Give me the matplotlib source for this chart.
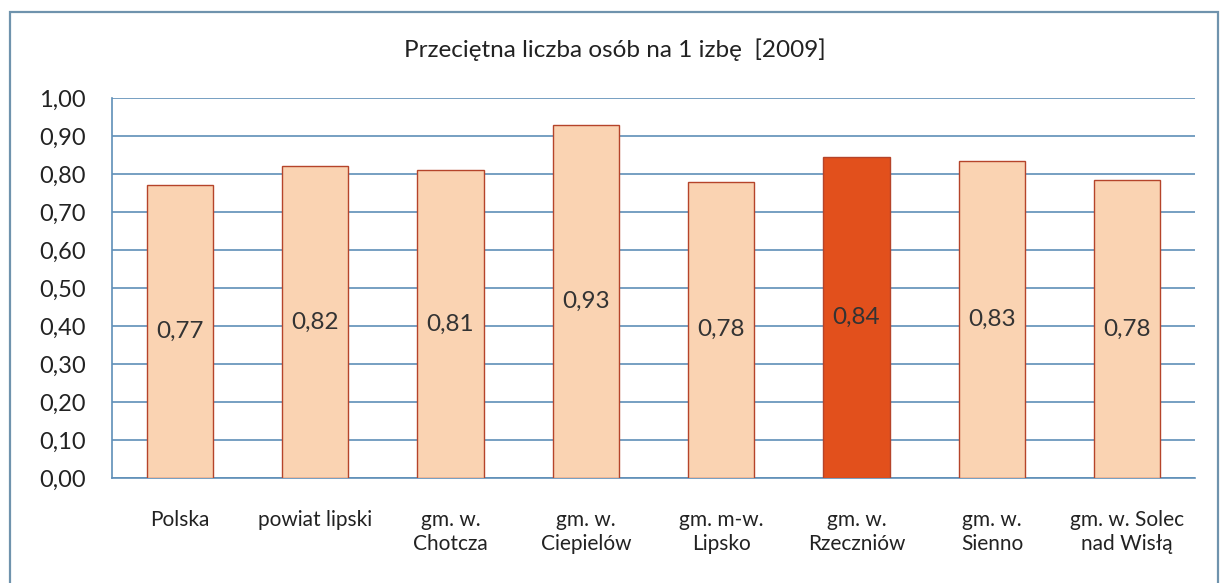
import numpy as np
import matplotlib.pyplot as plt
from matplotlib.patches import Rectangle

categories = ["Polska", "powiat lipski", "gm. w.\nChotcza", "gm. w.\nCiepielów",
              "gm. m-w.\nLipsko", "gm. w.\nRzeczniów", "gm. w.\nSienno",
              "gm. w. Solec\nnad Wisłą"]
values = [0.77, 0.82, 0.81, 0.93, 0.78, 0.845, 0.835, 0.785]
labels = ["0,77", "0,82", "0,81", "0,93", "0,78", "0,84", "0,83", "0,78"]
highlight = "gm. w.\nRzeczniów"

light = "#fad3b2"
dark = "#e2501c"
edge = "#b5442a"
blue = "#5f8fb8"

plt.rcParams['font.family'] = ['Lato', 'DejaVu Sans']

fig = plt.figure(figsize=(12.2, 5.83), dpi=100)
ax = fig.add_axes([0.0918, 0.180, 0.8877, 0.652])

# outer chart frame
fig.patches.append(Rectangle((10 / 1220, -0.01), 1208 / 1220, 1 - 12 / 583 + 0.01,
                             transform=fig.transFigure, fill=False,
                             edgecolor="#6f93ad", linewidth=1.6))

x = np.arange(len(categories))
cols = [dark if c == highlight else light for c in categories]
ax.bar(x, values, width=0.49, color=cols, edgecolor=edge, linewidth=1.0, zorder=3)

for xi, v, lab in zip(x, values, labels):
    ax.text(xi, v / 2, lab, ha="center", va="center", fontsize=17.5, color="#333333", zorder=4)

ax.set_xlim(-0.5, len(categories) - 0.5)
ax.set_ylim(0, 1.0)
ax.set_yticks(np.arange(0, 1.01, 0.1))
ax.set_yticklabels([f"{t:.2f}".replace(".", ",") for t in np.arange(0, 1.01, 0.1)])
ax.set_xticks(x)
ax.set_xticklabels(categories, fontsize=15, linespacing=1.25, color="#222222")
ax.tick_params(axis="y", length=0, pad=19, labelsize=17, labelcolor="#222222")
ax.tick_params(axis="x", length=0, pad=23)

ax.grid(axis="y", color=blue, linewidth=1.2, zorder=0)
ax.set_axisbelow(True)
for s in ["top", "right"]:
    ax.spines[s].set_visible(False)
for s in ["left", "bottom"]:
    ax.spines[s].set_color(blue)
    ax.spines[s].set_linewidth(1.2)

fig.text(0.504, 1 - 50 / 583, "Przeciętna liczba osób na 1 izbę  [2009]",
         ha="center", va="center", fontsize=17.5, color="#222222")

fig.savefig("out.png", dpi=100)
